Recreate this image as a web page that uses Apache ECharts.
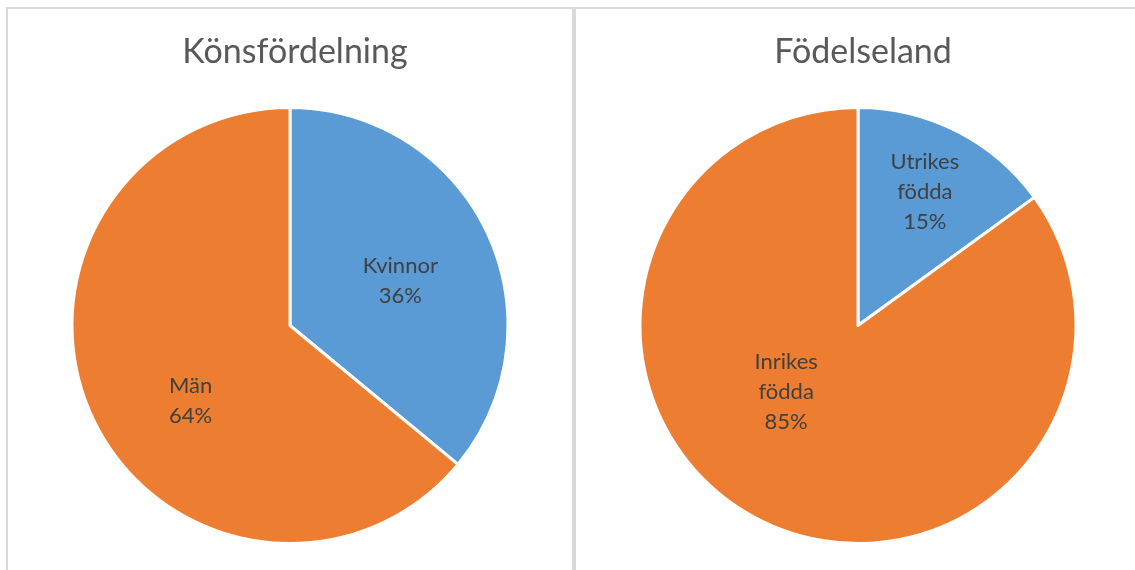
<!DOCTYPE html>
<html>
<head>
<meta charset="utf-8">
<script src="https://cdn.jsdelivr.net/npm/echarts@6.0.0/dist/echarts.min.js"></script>
<style>
  html, body { margin: 0; padding: 0; background: #fff; }
  #chart { width: 1135px; height: 570px; }
</style>
</head>
<body>
<div id="chart"></div>
<script>
// Könsfördelning
var genderNames = ['Kvinnor', 'Män'];
var genderValues = [36, 64];
// Födelseland
var birthNames = ['Utrikes\nfödda', 'Inrikes\nfödda'];
var birthValues = [15, 85];

var sliceColors = ['#5B9BD5', '#ED7D31'];

var chart = echarts.init(document.getElementById('chart'));

function toData(names, values) {
	var out = [];
	names.forEach(function (n, i) {
		out.push({ name: n, value: values[i], itemStyle: { color: sliceColors[i] } });
	});
	return out;
}

// excel "best fit" puts the labels a bit off the mid radius
function nudge(shifts) {
	return function (params) {
		var s = shifts[params.dataIndex];
		return { dx: s[0], dy: s[1] };
	};
}

var labelStyle = {
	show: true,
	position: 'inside',
	formatter: '{b}\n{d}%',
	color: '#404040',
	fontFamily: 'Lato',
	fontSize: 22,
	lineHeight: 30
};

var titleStyle = { fontFamily: 'Lato', fontWeight: 'normal', fontSize: 34, color: '#595959' };

var option = {
	animation: false,
	backgroundColor: '#fff',
	title: [
		{ text: 'Könsfördelning', left: 290, top: 30, textAlign: 'center', textStyle: titleStyle },
		{ text: 'Födelseland', left: 858, top: 30, textAlign: 'center', textStyle: titleStyle }
	],
	graphic: [
		{ type: 'rect', shape: { x: 7, y: 8, width: 566, height: 600 }, style: { fill: 'none', stroke: '#d9d9d9', lineWidth: 2 } },
		{ type: 'rect', shape: { x: 575, y: 8, width: 600, height: 600 }, style: { fill: 'none', stroke: '#d9d9d9', lineWidth: 2 } }
	],
	series: [
		{
			type: 'pie',
			center: [290, 325.5],
			radius: 218,
			startAngle: 90,
			clockwise: true,
			itemStyle: { borderColor: '#fff', borderWidth: 3 },
			label: labelStyle,
			labelLine: { show: false },
			emphasis: { disabled: true },
			labelLayout: nudge([[9, 3], [2, 28]]),
			data: toData(genderNames, genderValues)
		},
		{
			type: 'pie',
			center: [858, 325.5],
			radius: 218,
			startAngle: 90,
			clockwise: true,
			itemStyle: { borderColor: '#fff', borderWidth: 3 },
			label: labelStyle,
			labelLine: { show: false },
			emphasis: { disabled: true },
			labelLayout: nudge([[16, -34], [-21, -33]]),
			data: toData(birthNames, birthValues)
		}
	]
};

chart.setOption(option);
</script>
</body>
</html>
